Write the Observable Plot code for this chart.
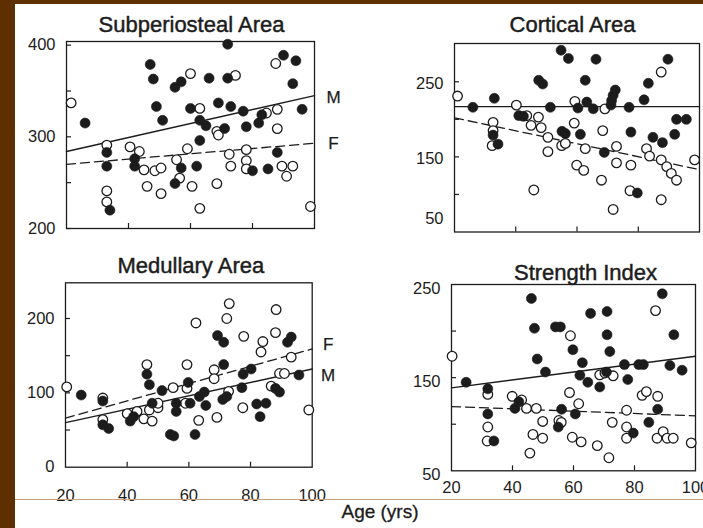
<!DOCTYPE html>
<html>
<head>
<meta charset="utf-8">
<script src="https://cdn.jsdelivr.net/npm/d3@7"></script>
<script src="https://cdn.jsdelivr.net/npm/@observablehq/plot@0.6"></script>
<style>
  body { margin: 0; background: #fff; }
  #page { position: relative; width: 703px; height: 528px; overflow: hidden; background: #fff;
          font-family: "Liberation Sans", Arial, Helvetica, sans-serif; color: #1c1c1c; }
  #lbar { position: absolute; left: 0; top: 0; width: 15px; height: 528px; background: #5e2f00; z-index: 5; }
  #tbar { position: absolute; left: 0; top: 0; width: 703px; height: 4px; background: #5e2f00; z-index: 5; }
  #rule { position: absolute; left: 15px; top: 498.5px; width: 688px; height: 1.5px; background: #c2a07a; z-index: 4; }
  .panel { position: absolute; }
  #xlabel { position: absolute; left: 280px; width: 200px; top: 501px; text-align: center;
            font-size: 19px; line-height: 22px; z-index: 4; -webkit-text-stroke: 0.3px #1c1c1c; }
</style>
</head>
<body>
<div id="page">
  <div id="p1" class="panel" style="left:0px;top:0px"></div>
  <div id="p2" class="panel" style="left:352px;top:0px"></div>
  <div id="p3" class="panel" style="left:0px;top:250px"></div>
  <div id="p4" class="panel" style="left:352px;top:250px"></div>
  <div id="rule"></div>
  <div id="xlabel">Age (yrs)</div>
  <div id="lbar"></div>
  <div id="tbar"></div>
</div>
<script>
// ---------- DATA (age, value) ----------
const titles = ["Subperiosteal Area", "Cortical Area", "Medullary Area", "Strength Index"];
const ageTicks = [20, 40, 60, 80, 100];
const ageInnerTicks = [40, 60, 80];

// Subperiosteal Area
const subMale = [[26,315],[47,379],[48,363],[49,333],[51,318],[33,283],[33,268],[34,220],[42,276],[42,268],
  [55,354],[57,360],[60,331],[63,296],[63,318],[65,312],[62,268],[57,266],[55,249],[66,364],[69,337],
  [72,401],[72,364],[73,333],[71,309],[77,328],[78,311],[80,263],[82,315],[83,324],[85,265],[88,283],
  [90,389],[93,358],[94,383],[96,330]];
const subFemale = [[21.5,337],[33,291],[33,241],[33,229],[40.5,289],[43.5,284],[45,264],[48.5,263],[50.5,266],
  [46,246],[50.5,238],[55.5,275],[56.5,255],[59,287],[60,369],[60.5,246],[63,331],[63,222],[68.5,306],
  [69,302],[68.5,249],[72.5,281],[73,268],[74.5,367],[78,286],[78,274],[78,265],[84.5,326],[88,330],
  [88,309],[87.5,380],[89.5,268],[91,257],[93,268],[98.7,224]];
const subLineM = [[20,284],[100,345]];
const subLineF = [[20,270],[100,293]];
const subYTicks = [200,250,300,350,400];
const subYLabels = [200,300,400];

// Cortical Area
const corMale = [[26,216],[33,228],[32.6,179],[34.2,167],[41,205],[42.5,204],[47.5,252],[48.8,247],[51.3,216],
  [54.8,292],[57.2,281],[55.1,184],[56.2,181],[60.3,215],[61.1,180],[62.7,252],[63.2,223],[65.3,214],
  [66.2,280],[68.9,156],[71.1,219],[71.3,225],[71.8,232],[72.5,239],[77,216],[77.6,183],[79.7,102],
  [81.9,226],[83.3,248],[84.8,176],[87.9,169],[89.7,280],[91.9,180],[92.5,200],[95.7,200]];
const corFemale = [[21,231],[32.6,196],[32.6,185],[32.3,165],[40.2,219],[43.6,205],[45,192],[47.4,203],
  [48.3,189],[50.5,176],[50.5,157],[45.9,106],[55,165],[56.2,168],[59.1,195],[59.3,224],[59.9,139],
  [62.2,132],[62.7,161],[68,119],[68.4,185],[69.1,214],[71.8,80],[72.9,164],[72.9,142],[77.6,139],
  [77.3,105],[82.7,161],[83.7,151],[87.5,263],[87.5,146],[87.5,93],[89.3,137],[90.8,128],[92.5,119],[98.4,146]];
const corLineM = [[20,217],[100,217]];
const corLineF = [[20,202],[100,133]];
const corYTicks = [100,150,200,250];
const corYLabels = [150,250];
const corYLowLabel = [50];

// Medullary Area
const medMale = [[25.1,97],[32.1,89],[32.1,57],[34,52],[41,62],[42.1,68],[46.4,125],[47.2,111],[48.1,86],
  [51.3,103],[54,44],[55.1,42],[55.9,86],[55.9,75],[59.8,114],[60.4,86],[63.4,95],[65,101],[65.5,83],
  [62,44],[69.3,177],[71.3,168],[71.3,138],[71,91],[72.3,95],[77.2,107],[77.6,125],[80.2,132],[82,85],
  [85,86],[83.1,68],[88.1,106],[89.4,101],[92,168],[93.2,175],[95.7,124]];
const medFemale = [[20.4,108],[32.1,93],[32.1,64],[40,72],[43.2,75],[45.4,65],[48.1,62],[46.4,138],[47.2,77],
  [50,80],[50,86],[54.9,107],[59.4,138],[59.4,106],[58.9,86],[62.3,194],[73.1,220],[72.3,200],[77.8,176],
  [68.2,131],[68.2,119],[63.2,63],[69.1,67],[72.9,102],[77.5,80],[84,169],[83.4,155],[88.3,212],[88.1,181],
  [86.7,109],[89.4,126],[91,126],[93.2,148],[98.9,77]];
const medLineM = [[20,60],[100,132]];
const medLineF = [[20,66],[100,159]];
const medYTicks = [50,100,150,200];
const medYLabels = [0,100,200];

// Strength Index
const strMale = [[24.8,145],[31.9,138],[31.9,111],[33.9,82],[40.8,117],[42.1,124],[46.2,235],[47.2,203],
  [48.1,170],[50.8,156],[54.1,204.5],[55.7,204.5],[55,97],[56.1,116],[59.8,180],[60.6,111],[62.9,166],
  [62.1,152.5],[64.7,145],[68.6,140],[65.6,219],[71,221],[71,196],[71.9,178],[70.8,156],[76.7,164],
  [77.8,148],[81.4,164],[82.9,164],[89.1,240],[92.9,196],[91.6,163],[95.6,158],[87.6,116],[84.7,102],[79.6,90.5]];
const strFemale = [[20.2,173],[31.9,132],[31.9,97],[31.7,82],[39.9,130],[43,126],[44.6,117],[47.8,117],
  [49.9,103],[46.7,89],[49.9,85],[45.7,69],[59,195],[58.7,134],[55.2,104],[56,102],[59.6,86],[61.7,122],
  [68.6,153],[70.3,155],[73,152],[72.7,102],[62.5,81],[67.8,77],[71.6,64],[77.4,115],[77.4,97],[77.4,85],
  [82.5,131],[83.9,135],[87.6,130],[86.9,222],[87.4,85],[89.4,92],[90.7,85],[92.7,85],[98.6,80]];
const strLineM = [[20,139],[100,173]];
const strLineF = [[20,119],[100,109]];
const strYTicks = [100,150,200];
const strYLabels = [50,150,250];

// ---------- DRAWING ----------
const INK = "#1c1c1c";
const FONT = "'Liberation Sans', Arial, Helvetica, sans-serif";
const X = d => d[0], Y = d => d[1];
const labelStyle = {fontSize: 16.5, fill: INK, stroke: INK, strokeWidth: 0.25, label: null};

function panel(el, cfg) {
  const marks = [
    Plot.frame({stroke: INK, strokeWidth: 1.3}),
    Plot.axisY(cfg.yTicks, {tickSize: -5, tickFormat: () => "", stroke: INK, strokeWidth: 1.2, label: null}),
    Plot.axisY(cfg.yLabels, {...labelStyle, tickSize: 0, tickPadding: 11, dy: cfg.yLabelDy || 0}),
    Plot.axisX(ageInnerTicks, {tickSize: -5, tickFormat: () => "", stroke: INK, strokeWidth: 1.2, label: null}),
    Plot.line(cfg.lineM, {x: X, y: Y, stroke: INK, strokeWidth: 1.4}),
    Plot.line(cfg.lineF, {x: X, y: Y, stroke: INK, strokeWidth: 1.3, strokeDasharray: "9,5"}),
    Plot.dot(cfg.female, {x: X, y: Y, r: 4.8, fill: "white", stroke: INK, strokeWidth: 1.3}),
    Plot.dot(cfg.male, {x: X, y: Y, r: 5, fill: INK, stroke: INK, strokeWidth: 0.6}),
    Plot.text([cfg.title], {text: d => d, frameAnchor: "top", lineAnchor: "bottom",
      dx: cfg.titleDx, dy: cfg.titleDy, fontSize: 22, fill: INK, stroke: INK, strokeWidth: 0.45})
  ];
  if (cfg.extraYLabels) marks.push(Plot.axisY(cfg.extraYLabels, {...labelStyle, tickSize: 0, tickPadding: 11, dy: cfg.extraDy}));
  if (cfg.xLabels) marks.push(Plot.axisX(cfg.xLabels, {...labelStyle, tickSize: 0, tickPadding: cfg.xPad}));
  if (cfg.sexLabels) {
    marks.push(Plot.text([cfg.lineM[1]], {x: X, y: Y, text: () => "M", dx: cfg.sexDx, dy: cfg.mDy, fontSize: 17, fill: INK, stroke: INK, strokeWidth: 0.25}));
    marks.push(Plot.text([cfg.lineF[1]], {x: X, y: Y, text: () => "F", dx: cfg.sexDx, dy: cfg.fDy, fontSize: 17, fill: INK, stroke: INK, strokeWidth: 0.25}));
  }
  const chart = Plot.plot({
    width: cfg.width, height: cfg.height,
    marginTop: cfg.m[0], marginRight: cfg.m[1], marginBottom: cfg.m[2], marginLeft: cfg.m[3],
    x: {domain: [20, 100]},
    y: {domain: cfg.yDomain},
    style: {fontFamily: FONT, background: "transparent", color: INK, overflow: "visible"},
    marks
  });
  document.getElementById(el).appendChild(chart);
}

panel("p1", {title: titles[0], male: subMale, female: subFemale, lineM: subLineM, lineF: subLineF,
  yDomain: [200, 404], yTicks: subYTicks, yLabels: subYLabels, width: 352, height: 250,
  m: [41, 38, 22, 66], titleDx: 1, titleDy: -9.5, sexLabels: true, sexDx: 19, mDy: 2, fDy: 0});

panel("p2", {title: titles[1], male: corMale, female: corFemale, lineM: corLineM, lineF: corLineF,
  yDomain: [50, 301], yTicks: corYTicks, yLabels: corYLabels, extraYLabels: corYLowLabel, extraDy: -13,
  yLabelDy: 1.5, width: 351, height: 250, m: [43, 4, 18.5, 102], titleDx: -4.5, titleDy: -11.5});

panel("p3", {title: titles[2], male: medMale, female: medFemale, lineM: medLineM, lineF: medLineF,
  yDomain: [0, 248], yTicks: medYTicks, yLabels: medYLabels, width: 352, height: 278,
  m: [32.3, 40.3, 61.3, 65], titleDx: 2, titleDy: -9.5, xLabels: ageTicks, xPad: 22,
  sexLabels: true, sexDx: 16, mDy: 6, fDy: -4});

panel("p4", {title: titles[3], male: strMale, female: strFemale, lineM: strLineM, lineF: strLineF,
  yDomain: [50, 250], yTicks: strYTicks, yLabels: strYLabels, yLabelDy: 4, width: 351, height: 278,
  m: [34, 8, 57.7, 99], titleDx: 12, titleDy: -5, xLabels: ageTicks, xPad: 10.7});
</script>
</body>
</html>
